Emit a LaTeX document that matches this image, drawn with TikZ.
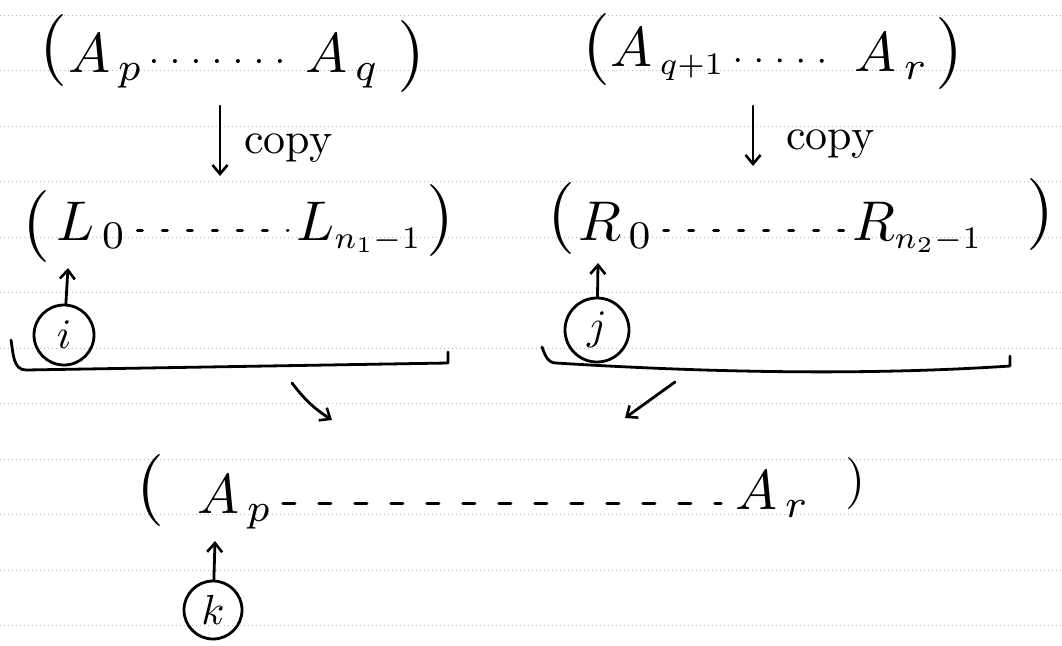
\documentclass[tikz,border=0pt]{standalone}
\usetikzlibrary{arrows.meta,calc}
\newcommand{\myterm}[1]{\scalebox{5.6}{$#1$}}
\newcommand{\mysub}[1]{\scalebox{0.8}{$\scriptstyle #1$}}
\newcommand{\myparen}[2][7.2]{\scalebox{#1}{#2}}
\tikzset{
  ink/.style={line width=2.8pt, line cap=round, line join=round, black},
  arr/.style={ink, -{Straight Barb[length=9pt,width=15pt,line width=2.6pt]}},
  paper/.style={gray!55, line width=0.7pt, dash pattern=on 1pt off 3pt},
  term/.style={anchor=base west, inner sep=0pt},
  paren/.style={inner sep=0pt},
  circ/.style={circle, draw, ink, inner sep=0pt, minimum size=60pt},
  lab/.style={anchor=west, inner sep=0pt},
  dotsA/.style={line width=4pt, line cap=round, dash pattern=on 0pt off 21pt},
  dotsB/.style={line width=3pt, line cap=round, dash pattern=on 5pt off 20pt},
  dotsC/.style={line width=3pt, line cap=round, dash pattern=on 12pt off 24pt}
}
\begin{document}
\begin{tikzpicture}[x=1pt,y=-1pt]
\useasboundingbox (0,0) rectangle (1062,645);
\fill[white] (0,0) rectangle (1062,645);
% ruled paper
\foreach \yy in {15,70.5,126,181.5,237,292.5,348,403.5,459,514.5,570,625.5}
  \draw[paper] (0,\yy) -- (1062,\yy);

% top row, left
\node[paren] (pl1) at (54,50) {\myparen{(}};
\node[term] (Ap) at (68,72) {\myterm{A_{\,p}}};
\node[term] (Aq) at (305,72) {\myterm{A_{\,q}}};
\node[paren] (pr1) at (411,56) {\myparen{)}};
\draw[dotsA] ([xshift=10pt,yshift=11pt]Ap.base east) -- ([xshift=-10pt,yshift=11pt]Aq.base west);

% top row, right
\node[paren] (pl2) at (596,49) {\myparen{(}};
\node[term] (Aq1) at (610,66) {\myterm{A_{\,\mysub{q+1}}}};
\node[term] (Ar) at (854,71) {\myterm{A_{\,r}}};
\node[paren] (pr2) at (949,53) {\myparen{)}};
\draw[dotsA] ([xshift=12pt,yshift=6pt]Aq1.base east) -- ([xshift=-12pt,yshift=10pt]Ar.base west);

% copy arrows
\coordinate (c1a) at (220,106);
\coordinate (c1b) at (220,176);
\draw[arr] (c1a) -- (c1b);
\node[lab] (copy1) at (244,148) {\scalebox{4.4}{copy}};
\coordinate (c2a) at (753,106);
\coordinate (c2b) at (753,166);
\draw[arr] (c2a) -- (c2b);
\node[lab] (copy2) at (786,144) {\scalebox{4.4}{copy}};

% second row, left
\node[paren] (pl3) at (37,226) {\myparen{(}};
\node[term] (L0) at (56,240) {\myterm{L_{\,0}}};
\node[term] (Ln) at (296,240) {\myterm{L_{\mysub{n_1-1}}}};
\node[paren] (pr3) at (440,220) {\myparen{)}};
\draw[dotsB] ([xshift=10pt,yshift=10pt]L0.base east) -- ([xshift=-8pt,yshift=10pt]Ln.base west);

% second row, right
\node[paren] (pl4) at (561,218) {\myparen{(}};
\node[term] (R0) at (578,240) {\myterm{R_{\,0}}};
\node[term] (Rn) at (852,240) {\myterm{R_{\mysub{n_2-1}}}};
\node[paren] (pr4) at (1040,214) {\myparen{)}};
\draw[dotsB] ([xshift=10pt,yshift=10pt]R0.base east) -- ([xshift=-8pt,yshift=10pt]Rn.base west);

% index circles and brackets
\node[circ] (i) at (64,335) {\scalebox{4.2}{$i$}};
\coordinate (itip) at (68,268);
\draw[arr] (i) -- (itip);
\draw[ink] (11,340) to[out=-80,in=180] (26,370) -- (448,363) -- (448,352);

\node[circ, minimum size=64pt] (j) at (597,330) {\scalebox{4.2}{$j$}};
\coordinate (jtip) at (598,263);
\draw[arr] (j) -- (jtip);
\draw[ink] (542,347) to[out=-70,in=180] (556,363) .. controls (700,372) and (860,376) .. (1010,366) -- (1010,356);

% merge arrows
\coordinate (m1a) at (292,383);
\coordinate (m1b) at (332,420);
\draw[arr] (m1a) to[bend right=10] (m1b);
\coordinate (m2a) at (675,382);
\coordinate (m2b) at (625,418);
\draw[arr] (m2a) -- (m2b);

% bottom row
\node[paren] (pl5) at (151,490) {\myparen{(}};
\node[term] (Bp) at (197,513) {\myterm{A_{\,p}}};
\node[term] (Br) at (735,509) {\myterm{A_{\,r}}};
\node[paren] (pr5) at (856,483) {\myparen[5.2]{)}};
\draw[dotsC] ([xshift=10pt,yshift=10pt]Bp.base east) -- ([xshift=-14pt,yshift=6pt]Br.base west);

\node[circ, minimum size=58pt] (k) at (213,610) {\scalebox{4.2}{$k$}};
\coordinate (ktip) at (215,541);
\draw[arr] (k) -- (ktip);
\end{tikzpicture}
\end{document}
